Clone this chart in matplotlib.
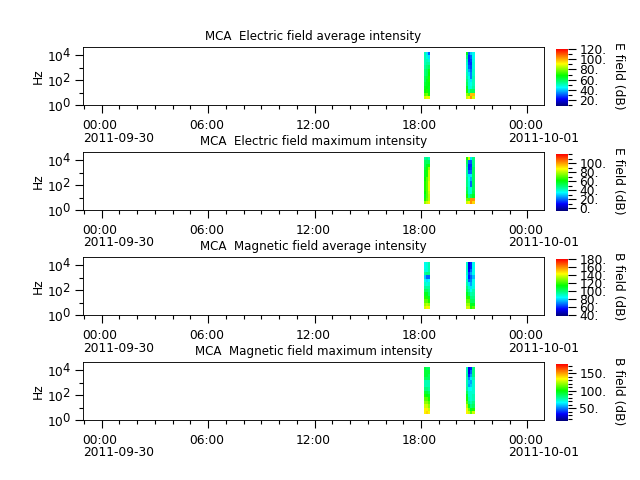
import datetime as dt

import matplotlib
matplotlib.use("Agg")
import matplotlib.dates as mdates
import matplotlib.pyplot as plt
import matplotlib._mathtext as mathtext_internal
import numpy as np
from matplotlib.colors import LinearSegmentedColormap
from matplotlib.ticker import FixedLocator, FuncFormatter, MultipleLocator, NullFormatter

# keep exponents close to the size of the base digits
mathtext_internal.SHRINK_FACTOR = 0.95

FREQ_EDGES = [3, 5.6, 10, 18.5, 35, 65, 120, 225, 420, 780, 1450, 2700, 5000, 9300, 17400]

PASS1_EDGES = [dt.datetime(2011, 9, 30, 18, 11), dt.datetime(2011, 9, 30, 18, 18),
               dt.datetime(2011, 9, 30, 18, 25), dt.datetime(2011, 9, 30, 18, 32)]
PASS2_EDGES = [dt.datetime(2011, 9, 30, 20, 33), dt.datetime(2011, 9, 30, 20, 40),
               dt.datetime(2011, 9, 30, 20, 47), dt.datetime(2011, 9, 30, 20, 54),
               dt.datetime(2011, 9, 30, 21, 1)]

# one list per time column, listed from the highest channel to the lowest
E_AVG = [
    [51, 51, 51, 51, 53, 56, 56, 59, 59, 62, 65, 67, 76, 87],
    [42, 48, 51, 53, 56, 59, 59, 62, 65, 65, 67, 70, 78, 89],
    [31, 42, 49, 53, 59, 65, 67, 70, 70, 67, 65, 65, 70, 89],
    [65, 56, 51, 49, 48, 49, 51, 53, 56, 59, 65, 70, 81, 87],
    [31, 26, 26, 28, 31, 37, 42, 46, 48, 48, 48, 53, 76, 92],
    [40, 31, 28, 26, 28, 31, 33, 33, 42, 46, 48, 59, 98, 103],
    [46, 46, 47, 48, 48, 49, 49, 51, 51, 51, 53, 59, 98, 87],
]
E_MAX = [
    [44, 51, 51, 54, 57, 57, 60, 63, 63, 63, 60, 57, 63, 76],
    [47, 51, 57, 63, 63, 63, 70, 70, 70, 70, 70, 70, 72, 82],
    [42, 51, 63, 76, 82, 82, 82, 85, 85, 85, 82, 80, 80, 89],
    [63, 51, 47, 44, 44, 44, 47, 47, 47, 51, 54, 63, 72, 82],
    [82, 19, 13, 13, 19, 32, 36, 38, 38, 39, 39, 44, 70, 89],
    [32, 17, 13, 15, 19, 32, 26, 19, 19, 38, 38, 51, 101, 101],
    [47, 47, 47, 51, 51, 51, 51, 51, 51, 51, 53, 57, 101, 92],
]
B_AVG = [
    [86, 86, 88, 95, 78, 86, 90, 95, 102, 110, 117, 124, 131, 138],
    [88, 88, 88, 98, 67, 81, 88, 95, 102, 110, 117, 124, 135, 145],
    [93, 93, 93, 98, 67, 84, 90, 95, 98, 102, 110, 117, 131, 141],
    [90, 90, 90, 90, 86, 90, 93, 98, 102, 110, 117, 124, 131, 138],
    [53, 53, 56, 63, 59, 67, 81, 90, 95, 102, 117, 124, 131, 138],
    [60, 60, 67, 74, 67, 70, 74, 81, 86, 93, 98, 102, 110, 117],
    [86, 86, 86, 86, 77, 86, 86, 88, 93, 95, 98, 102, 110, 124],
]
B_MAX = [
    [92, 92, 92, 87, 76, 76, 82, 92, 103, 111, 119, 127, 136, 136],
    [87, 92, 92, 87, 76, 76, 82, 92, 98, 111, 119, 127, 136, 140],
    [87, 92, 87, 87, 76, 76, 79, 87, 95, 103, 111, 119, 127, 136],
    [76, 76, 79, 76, 76, 76, 79, 87, 95, 103, 111, 124, 131, 136],
    [30, 30, 38, 50, 58, 54, 67, 72, 72, 76, 82, 95, 114, 127],
    [38, 46, 54, 63, 54, 59, 67, 72, 72, 72, 76, 82, 95, 111],
    [82, 82, 82, 76, 72, 72, 72, 72, 76, 76, 82, 87, 103, 127],
]

TITLES = ["MCA  Electric field average intensity", "MCA  Electric field maximum intensity",
          "MCA  Magnetic field average intensity", "MCA  Magnetic field maximum intensity"]
CB_LABELS = ["E field (dB)", "E field (dB)", "B field (dB)", "B field (dB)"]
PANELS = [E_AVG, E_MAX, B_AVG, B_MAX]
LIMITS = [(9, 120), (-6, 120), (39, 180), (14, 176)]
CB_MAJOR = [[20, 40, 60, 80, 100, 120], [0, 20, 40, 60, 80, 100],
            [40, 60, 80, 100, 120, 140, 160, 180], [50, 100, 150]]
CB_MINOR = [10, 10, 20, 10]
AX_TOPS = [47, 152, 257, 362]

TICK_TIMES = [dt.datetime(2011, 9, 30, 0), dt.datetime(2011, 9, 30, 6), dt.datetime(2011, 9, 30, 12),
              dt.datetime(2011, 9, 30, 18), dt.datetime(2011, 10, 1, 0)]
TICK_TEXTS = ["00:00\n2011-09-30", "06:00", "12:00", "18:00", "00:00\n2011-10-01"]

spectrum = LinearSegmentedColormap.from_list("spectrum", [
    (0.0, (0, 0, 0.5)), (0.12, (0, 0, 1)), (0.32, (0, 1, 1)), (0.42, (0, 1, 0.5)),
    (0.53, (0, 1, 0)), (0.74, (1, 1, 0)), (1.0, (1, 0, 0))])

W, H = 640, 480
fig = plt.figure(figsize=(8, 6), dpi=80)
t0 = dt.datetime(2011, 9, 29, 22, 57)
t1 = dt.datetime(2011, 10, 1, 0, 56)

for i, values in enumerate(PANELS):
    top = AX_TOPS[i]
    ax = fig.add_axes([83 / W, 1 - (top + 58) / H, 461 / W, 58 / H])
    grid = np.array(values).T[::-1]
    vmin, vmax = LIMITS[i]
    mesh = ax.pcolormesh(PASS1_EDGES, FREQ_EDGES, grid[:, :3], cmap=spectrum, vmin=vmin, vmax=vmax)
    ax.pcolormesh(PASS2_EDGES, FREQ_EDGES, grid[:, 3:], cmap=spectrum, vmin=vmin, vmax=vmax)
    ax.set_yscale("log")
    ax.set_ylim(1, 10 ** 4.64)
    ax.set_xlim(t0, t1)
    ax.yaxis.set_major_locator(FixedLocator([1, 100, 10000]))
    ax.yaxis.set_minor_locator(FixedLocator([10, 1000]))
    ax.yaxis.set_minor_formatter(NullFormatter())
    ax.xaxis.set_major_locator(FixedLocator(mdates.date2num(TICK_TIMES)))
    ax.xaxis.set_minor_locator(mdates.HourLocator())
    ax.xaxis.set_major_formatter(NullFormatter())
    ax.tick_params(which="major", length=7, width=1, labelsize=11)
    ax.tick_params(which="minor", length=3.5, width=1)
    # tick text starts left of the tick and lines up on its left edge
    for when, text in zip(TICK_TIMES, TICK_TEXTS):
        ax.annotate(text, xy=(when, 0), xycoords=("data", "axes fraction"), xytext=(-19, -14),
                    textcoords="offset pixels", fontsize=11, ha="left", va="top", linespacing=0.95)
    ax.set_ylabel("Hz", fontsize=11, labelpad=2)
    ax.set_title(TITLES[i], fontsize=10.7, pad=6)

    cax = fig.add_axes([556 / W, 1 - (top + 58.7) / H, 12.3 / W, 56.7 / H])
    cb = fig.colorbar(mesh, cax=cax)
    cax.yaxis.set_major_locator(FixedLocator(CB_MAJOR[i]))
    cax.yaxis.set_minor_locator(MultipleLocator(CB_MINOR[i]))
    cax.yaxis.set_major_formatter(FuncFormatter(lambda v, p: "%d." % v))
    cax.tick_params(which="major", length=7, width=1, labelsize=11, pad=3)
    cax.tick_params(which="minor", length=4, width=1)
    cb.outline.set_linewidth(0)
    fig.text(618 / W, 1 - (top + 29) / H, CB_LABELS[i], rotation=-90, fontsize=11,
             ha="center", va="center")

fig.savefig("out.png", dpi=80)
